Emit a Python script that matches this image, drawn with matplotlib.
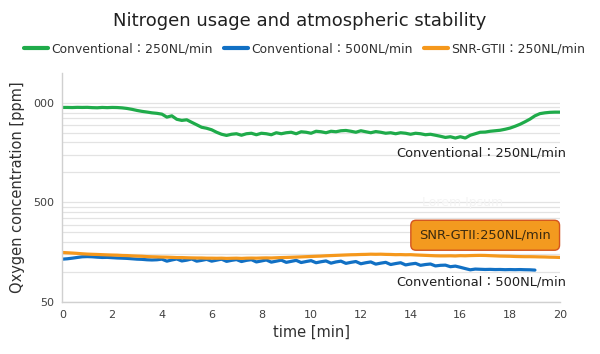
import numpy as np
import matplotlib
matplotlib.use("Agg")
import matplotlib.pyplot as plt
from matplotlib.ticker import FixedLocator, NullFormatter

plt.rcParams['font.family'] = ['DejaVu Sans', 'Noto Sans CJK JP']

title = "Nitrogen usage and atmospheric stability"
series_names = ["Conventional：250NL/min", "Conventional：500NL/min", "SNR-GTII：250NL/min"]

time_min = np.round(np.arange(0, 101) * 0.2, 1)

conv_250 = [4500, 4500, 4490, 4510, 4500, 4510, 4480, 4465, 4500, 4480,
            4500, 4490, 4456, 4395, 4305, 4197, 4110, 4045, 3972, 3927,
            3855, 3597, 3707, 3420, 3334, 3381, 3190, 3013, 2844, 2780,
            2685, 2535, 2420, 2355, 2420, 2449, 2365, 2449, 2477, 2393,
            2477, 2449, 2393, 2506, 2449, 2506, 2535, 2449, 2564, 2535,
            2477, 2594, 2564, 2506, 2594, 2564, 2624, 2642, 2594, 2535,
            2624, 2564, 2506, 2576, 2535, 2477, 2506, 2449, 2506, 2477,
            2420, 2477, 2449, 2393, 2420, 2365, 2310, 2248, 2285, 2218,
            2285, 2218, 2365, 2449, 2535, 2546, 2594, 2624, 2655, 2716,
            2793, 2910, 3048, 3228, 3435, 3707, 3900, 3972, 4018, 4037,
            4037]

conv_500 = [134.6, 135.8, 137.7, 140.0, 142.2, 142.8, 142.2, 140.9, 140.0, 140.3,
            139.3, 138.3, 137.7, 137.0, 135.8, 134.6, 134.0, 132.7, 132.1, 132.7,
            134.6, 128.5, 132.1, 135.2, 129.1, 131.5, 135.2, 128.5, 130.9, 134.0,
            128.5, 131.5, 134.6, 127.9, 130.9, 133.3, 127.4, 130.9, 133.0, 126.2,
            129.1, 132.1, 125.6, 128.5, 131.5, 125.0, 127.9, 130.9, 124.5, 127.4,
            130.0, 123.9, 126.8, 129.1, 122.7, 126.2, 128.5, 122.1, 125.0, 127.4,
            121.0, 123.9, 126.2, 120.0, 122.7, 125.0, 118.9, 121.6, 123.9, 117.8,
            120.3, 122.1, 116.7, 118.9, 120.3, 115.1, 116.7, 117.2, 113.0, 114.6,
            111.5, 108.2, 105.2, 107.0, 106.5, 106.0, 106.3, 105.8, 106.0, 105.5,
            105.8, 105.5, 105.8, 105.4, 105.2, 104.5]

snr_250 = [157.0, 156.0, 155.0, 153.8, 152.4, 151.3, 150.6, 150.0, 149.3, 148.6,
           148.0, 147.6, 146.6, 146.2, 145.2, 144.5, 143.9, 142.8, 142.2, 141.8,
           141.2, 140.9, 140.3, 139.6, 139.6, 139.0, 138.6, 138.3, 138.3, 137.7,
           137.7, 137.4, 137.7, 137.0, 137.4, 137.7, 137.0, 137.7, 138.0, 137.7,
           138.3, 138.6, 138.3, 139.0, 139.6, 140.0, 140.6, 141.2, 141.8, 142.5,
           143.2, 143.9, 144.5, 145.5, 146.2, 146.9, 147.6, 148.3, 149.0, 149.3,
           150.0, 150.3, 151.0, 150.6, 151.0, 150.3, 150.0, 149.3, 149.6, 149.0,
           149.3, 148.3, 147.6, 146.9, 146.2, 145.5, 145.2, 145.2, 145.5, 144.9,
           145.9, 145.5, 146.2, 146.6, 146.9, 146.6, 145.9, 145.2, 144.5, 144.2,
           143.9, 143.2, 142.8, 142.5, 142.5, 142.2, 141.8, 141.5, 140.9, 140.6,
           140.0]

x_ticks = [0, 2, 4, 6, 8, 10, 12, 14, 16, 18, 20]
y_ticks = [50, 500, 5000]
y_tick_labels = ["50", "500", "000"]
y_minor = [100, 150, 200, 250, 300, 350, 400, 450,
           1000, 1500, 2000, 2500, 3000, 3500, 4000, 4500]

c_green = "#1fab4a"
c_blue = "#1170c4"
c_orange = "#f5981c"

fig = plt.figure(figsize=(6.0, 3.54), dpi=100)
ax = fig.add_axes([0.104, 0.147, 0.829, 0.647])

ax.plot(time_min, conv_250, color=c_green, lw=2.3, label=series_names[0], solid_capstyle='round')
ax.plot(time_min[:len(conv_500)], conv_500, color=c_blue, lw=2.3, label=series_names[1], solid_capstyle='round')
ax.plot(time_min, snr_250, color=c_orange, lw=2.3, label=series_names[2], solid_capstyle='round')

ax.set_yscale('log')
ax.set_ylim(50, 10000)
ax.set_xlim(0, 20)
ax.yaxis.set_major_locator(FixedLocator(y_ticks))
ax.set_yticklabels(y_tick_labels)
ax.yaxis.set_minor_locator(FixedLocator(y_minor))
ax.yaxis.set_minor_formatter(NullFormatter())
ax.set_xticks(x_ticks)
ax.tick_params(axis='both', which='both', length=0, labelsize=8, colors='#404040', pad=6)
ax.grid(True, which='both', axis='y', color='#e3e3e3', lw=0.9)
ax.set_axisbelow(True)
for s in ['top', 'right']:
    ax.spines[s].set_visible(False)
for s in ['left', 'bottom']:
    ax.spines[s].set_color('#d0d0d0')
    ax.spines[s].set_linewidth(1.0)

ax.set_xlabel("time [min]", fontsize=10.5, color='#303030', labelpad=3)
ax.set_ylabel("Qxygen concentration [ppm]", fontsize=10.5, color='#303030', labelpad=6)

fig.suptitle(title, x=0.5, y=0.965, fontsize=13, color='#202020')

leg = fig.legend(loc='center', bbox_to_anchor=(0.508, 0.862), ncol=3, frameon=False,
                 fontsize=8.9, handlelength=1.9, handletextpad=0.3, columnspacing=0.9,
                 labelcolor='#303030')
for h in leg.get_lines():
    h.set_linewidth(3)

ax.text(20.25, 1586, series_names[0], ha='right', va='center', fontsize=9.4, color='#202020', clip_on=False)
ax.text(20.25, 79, series_names[1], ha='right', va='center', fontsize=9.4, color='#202020', clip_on=False)
ax.text(16.1, 500, "Lorem Ipsum", ha='center', va='center', fontsize=9, color='#f4f4f4')
ax.text(17.0, 234, "SNR-GTII:250NL/min", ha='center', va='center', fontsize=9.4, color='#3a2a10',
        bbox=dict(boxstyle='round,pad=0.65,rounding_size=0.4', fc='#f39a1f', ec='#d4541e', lw=1.0),
        clip_on=False)

fig.savefig("out.png", dpi=100)
